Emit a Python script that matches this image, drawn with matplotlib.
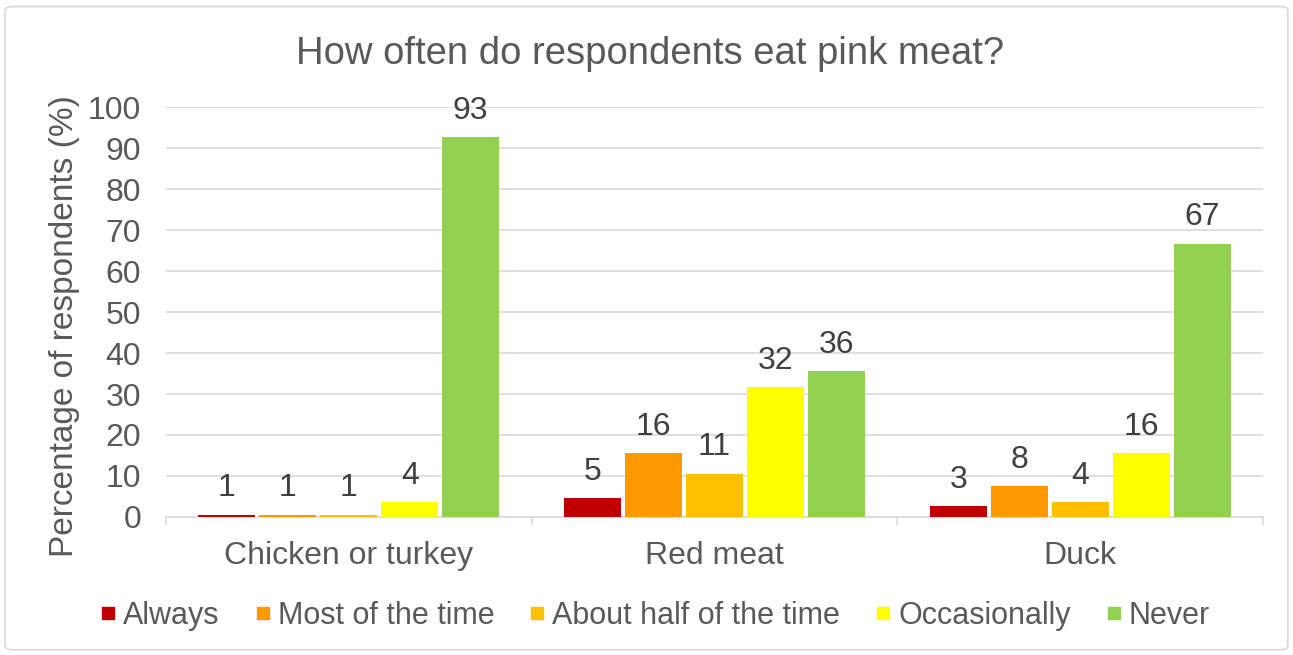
import matplotlib
matplotlib.use("Agg")
import matplotlib.pyplot as plt
import numpy as np
from matplotlib.lines import Line2D
from matplotlib.patches import FancyBboxPatch

plt.rcParams['font.family'] = ['Liberation Sans', 'DejaVu Sans']

categories = ["Chicken or turkey", "Red meat", "Duck"]
series_names = ["Always", "Most of the time", "About half of the time", "Occasionally", "Never"]
always = [0.6, 4.6, 2.6]
most_of_time = [0.6, 15.6, 7.6]
about_half = [0.6, 10.6, 3.6]
occasionally = [3.6, 31.6, 15.5]
never = [92.6, 35.6, 66.7]
colors = ["#c00000", "#ff9900", "#ffc000", "#ffff00", "#92d050"]
yticks = [0, 10, 20, 30, 40, 50, 60, 70, 80, 90, 100]

series = [always, most_of_time, about_half, occasionally, never]
text_col = "#595959"

fig = plt.figure(figsize=(12.93, 6.55), dpi=100)
fig.patches.append(FancyBboxPatch((0.004, 0.008), 0.992, 0.982, boxstyle="round,pad=0,rounding_size=0.006",
                                  transform=fig.transFigure, facecolor="white", edgecolor="#d9d9d9",
                                  linewidth=1.2, zorder=-1))
ax = fig.add_axes([0.1284, 0.2107, 0.8484, 0.6259])
ax.set_facecolor("none")

x = np.arange(len(categories))
pitch = 1 / 6
width = 0.156
for i, (vals, col) in enumerate(zip(series, colors)):
    pos = x + (i - 2) * pitch
    bars = ax.bar(pos, vals, width=width, color=col, zorder=3)
    for b, v in zip(bars, vals):
        ax.annotate(f"{v:.0f}", (b.get_x() + b.get_width() / 2, v), xytext=(0, 8),
                    textcoords="offset points", ha="center", va="bottom",
                    fontsize=23, color="#404040")

ax.set_ylim(0, 100)
ax.set_xlim(-0.5, 2.5)
ax.set_yticks(yticks)
ax.grid(axis="y", color="#d9d9d9", linewidth=1.2, zorder=0)
ax.tick_params(axis="y", length=0, labelsize=23, labelcolor=text_col, pad=18)
ax.set_xticks(x)
ax.set_xticklabels(categories)
ax.tick_params(axis="x", which="major", length=0, labelsize=23, labelcolor=text_col, pad=17)
ax.set_xticks([-0.5, 0.5, 1.5, 2.5], minor=True)
ax.tick_params(axis="x", which="minor", length=6, color="#d9d9d9", width=1.2)
for s in ["top", "right", "left"]:
    ax.spines[s].set_visible(False)
ax.spines["bottom"].set_color("#d9d9d9")
ax.spines["bottom"].set_linewidth(1.2)

fig.text(65 / 1293, 1 - 326 / 655, "Percentage of respondents (%)", rotation=90,
         ha="center", va="center", fontsize=24, color=text_col)
fig.text(0.503, 0.917, "How often do respondents eat pink meat?", ha="center", va="center",
         fontsize=27.5, color=text_col)

handles = [Line2D([0], [0], marker="s", linestyle="none", markersize=8, markerfacecolor=c,
                  markeredgecolor=c) for c in colors]
fig.legend(handles, series_names, loc="center", bbox_to_anchor=(0.505, 0.06), ncol=5,
           frameon=False, fontsize=22, labelcolor=text_col, handletextpad=0.1,
           columnspacing=1.0, handlelength=0.8)

fig.savefig("out.png", dpi=100)
